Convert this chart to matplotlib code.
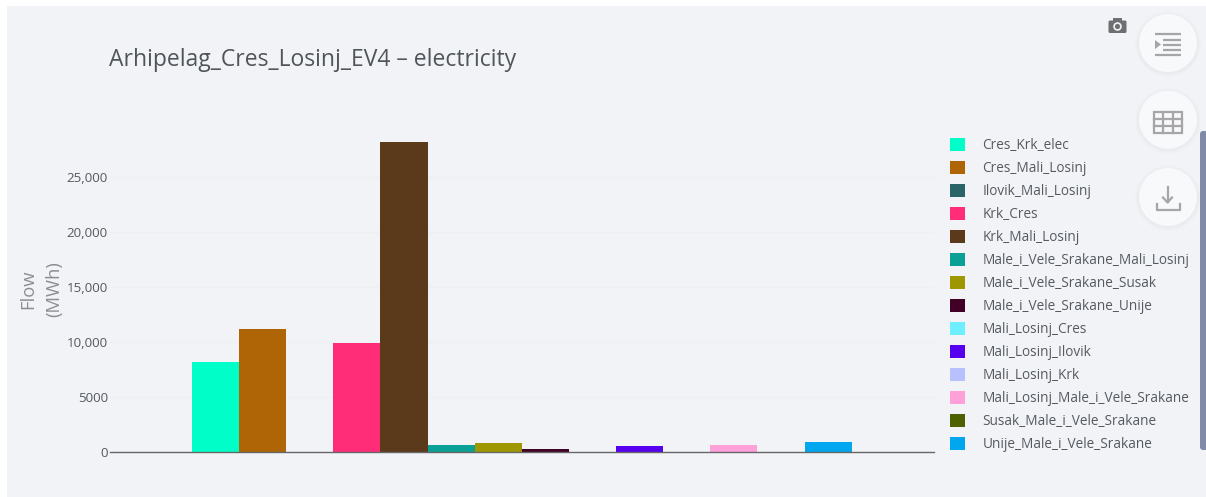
import matplotlib
matplotlib.use("Agg")
import matplotlib.pyplot as plt
from matplotlib.patches import Circle, Rectangle, FancyBboxPatch, Polygon
from matplotlib.ticker import FuncFormatter

plt.rcParams['font.family'] = ['Open Sans', 'DejaVu Sans']

W, H = 1206, 497

series = ["Cres_Krk_elec", "Cres_Mali_Losinj", "Ilovik_Mali_Losinj", "Krk_Cres", "Krk_Mali_Losinj",
          "Male_i_Vele_Srakane_Mali_Losinj", "Male_i_Vele_Srakane_Susak", "Male_i_Vele_Srakane_Unije",
          "Mali_Losinj_Cres", "Mali_Losinj_Ilovik", "Mali_Losinj_Krk", "Mali_Losinj_Male_i_Vele_Srakane",
          "Susak_Male_i_Vele_Srakane", "Unije_Male_i_Vele_Srakane"]
values = [8200, 11200, 0, 9850, 28100, 600, 780, 230, 0, 570, 0, 670, 0, 880]
colors = ["#00FFC8", "#AF6405", "#2B6468", "#FF2D78", "#5A3A1B", "#0AA096", "#9E9700", "#430026",
          "#6EEFFF", "#5500EE", "#B8C0FF", "#FFA0D8", "#4E6100", "#00A6EE"]
yticks = [0, 5000, 10000, 15000, 20000, 25000]

TXT = "#555a60"
CARD = "#f1f3f7"

fig = plt.figure(figsize=(W / 100, H / 100), dpi=100, facecolor="white")

# page chrome behind the chart
bg = fig.add_axes([0, 0, 1, 1], zorder=0)
bg.set_xlim(0, W); bg.set_ylim(H, 0); bg.axis("off")
bg.add_patch(Rectangle((7, 6), W - 7, H - 6, fc=CARD, ec="none"))

# plot area
L, R, B, T = 110, 934, 452, 110
ax = fig.add_axes([L / W, 1 - B / H, (R - L) / W, (B - T) / H], zorder=1)
ax.patch.set_alpha(0)
bw = 47.12
for i, (name, v, c) in enumerate(zip(series, values, colors)):
    ax.bar(i, v, width=1.0, color=c, label=name, linewidth=0)
ax.set_xlim(-0.5 - 82 / bw, -0.5 - 82 / bw + (R - L) / bw)
ax.set_ylim(0, (B - T) / 0.01102)
ax.set_xticks([])
ax.set_yticks(yticks)
ax.yaxis.set_major_formatter(FuncFormatter(lambda v, _: "0" if v == 0 else ("5000" if v == 5000 else f"{int(v):,}")))
ax.tick_params(axis="y", length=0, pad=1.5, labelsize=9.6, labelcolor=TXT)
ax.grid(axis="y", color="#eeefef", linewidth=0.8)
ax.set_axisbelow(True)
for s in ["top", "right", "left"]:
    ax.spines[s].set_visible(False)
ax.spines["bottom"].set_color("#666666")
ax.spines["bottom"].set_linewidth(1.0)

fig.text(28 / W, 1 - 289 / H, "Flow", rotation=90, ha="center", va="center", fontsize=13.2, color="#8a8d92")
fig.text(54 / W, 1 - 289 / H, "(MWh)", rotation=90, ha="center", va="center", fontsize=13.2, color="#8a8d92")
fig.text(109 / W, 1 - 60.5 / H, "Arhipelag_Cres_Losinj_EV4 – electricity", ha="left", va="center",
         fontsize=16.5, color="#50555a")

handles, labels = ax.get_legend_handles_labels()
leg = fig.legend(handles, labels, loc="upper left", bbox_to_anchor=(943 / W, 1 - 131 / H), frameon=False,
                 fontsize=9.8, labelcolor=TXT, handlelength=1.1, handleheight=1.1, handletextpad=1.3,
                 labelspacing=0.577, borderpad=0.5, borderaxespad=0)

# page controls on top
fg = fig.add_axes([0, 0, 1, 1], zorder=2)
fg.set_xlim(0, W); fg.set_ylim(H, 0); fg.axis("off"); fg.patch.set_alpha(0)
ICON = "#a6a6a8"
for cy in (43, 119.7, 197):
    for r in (33, 32, 31, 30):
        fg.add_patch(Circle((1168, cy + 1), r, fc="#000000", alpha=0.006, ec="none"))
    fg.add_patch(Circle((1168, cy), 29, fc="#f8f9fa", ec="none"))

# list icon
for y0, x0, x1 in ((34, 1155, 1181), (39.5, 1163, 1181), (44.5, 1163, 1181), (49.5, 1163, 1181), (54.5, 1155, 1181)):
    fg.plot([x0, x1], [y0, y0], color=ICON, lw=1.6, solid_capstyle="butt")
fg.add_patch(Polygon([(1155, 40), (1155, 49), (1161, 44.5)], fc=ICON, ec="none"))

# table icon
fg.add_patch(Rectangle((1154, 111.5), 27.5, 21.5, fc="none", ec=ICON, lw=1.6))
for x in (1163, 1172.5):
    fg.plot([x, x], [111.5, 133], color=ICON, lw=1.6)
for y in (118.5, 125.5):
    fg.plot([1154, 1181.5], [y, y], color=ICON, lw=1.6)

# download icon
fg.plot([1167.5, 1167.5], [187, 202], color=ICON, lw=1.6)
fg.plot([1163, 1167.5, 1172], [197.5, 202.5, 197.5], color=ICON, lw=1.6)
fg.plot([1156.5, 1156.5, 1179.5, 1179.5], [203.5, 209.5, 209.5, 203.5], color=ICON, lw=1.6)

# camera icon
CAM = "#6f6f71"
fg.add_patch(FancyBboxPatch((1108.5, 20.5), 18, 12.5, boxstyle="round,pad=0,rounding_size=1.5", fc=CAM, ec="none"))
fg.add_patch(Rectangle((1113, 18), 9, 3, fc=CAM, ec="none"))
fg.add_patch(Circle((1117.5, 26.5), 4.3, fc="#f1f3f7", ec="none"))
fg.add_patch(Circle((1117.5, 26.5), 2.6, fc=CAM, ec="none"))

# scrollbar
fg.add_patch(FancyBboxPatch((1200, 131), 8, 319, boxstyle="round,pad=0,rounding_size=3", fc="#818ba8", ec="none"))

fig.savefig("out.png", dpi=100, facecolor="white")
